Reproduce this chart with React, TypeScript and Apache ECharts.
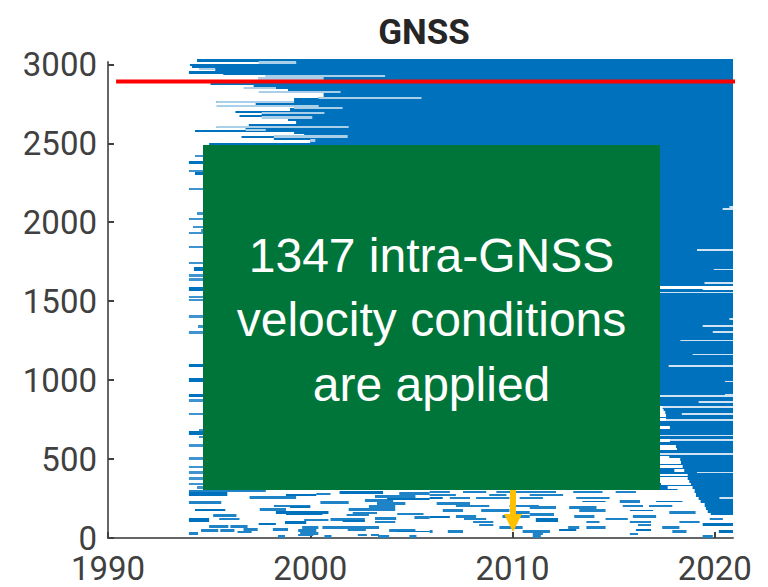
import React, { useEffect, useRef } from "react";
import * as echarts from "echarts";

const xTicks = [1990, 2000, 2010, 2020];
const yTicks = [0, 500, 1000, 1500, 2000, 2500, 3000];
const END = 2020.9;
const redLine = [[1990.4, 2892], [2021.05, 2892]];

// [low station, high station, first year]: solid rows that run on to the end of the record
const topBands = [
  [3018,3031,1994.4],[3001,3018,1999.3],[2989,3001,1994.05],[2980,2989,1994.15],[2968,2980,1994.7],
  [2959,2968,1995.3],[2942,2959,1994],[2934,2942,1995.7],[2917,2934,1997.8],[2904,2917,1997.45],
  [2870,2904,1995.07],[2858,2870,1997.2],[2845,2858,1998.3],[2824,2845,1998.9],[2794,2824,2000.66],
  [2786,2794,2000.4],[2765,2786,1999.2],[2756,2765,1995.36],[2744,2756,1997.3],[2733,2744,2000.4],
  [2722,2733,1999.2],[2703,2722,1999],[2693,2703,1996.3],[2680,2693,1997.6],[2668,2680,1996.5],
  [2655,2668,1998.7],[2643,2655,1998.9],[2620,2643,1999.3],[2605,2620,1996.96],[2598,2605,1995.36],
  [2586,2598,1996.8],[2572,2586,1994.3],[2558,2572,1999.2],[2545,2558,1999.7],[2534,2545,1996.6],
  [2522,2534,1998.2],[2500,2522,2000],[304,2500,1995],
  [283,304,2019],[262,283,2019.07],[241,262,2019.2],[220,241,2019.3],[199,220,2019.5],
  [178,199,2019.56],[157,178,2019.65],[144,157,2019.8],
];

// [station, first year, last year]: pale gaps across the top block
const paleRows = [
  [3012,1997.45,1999.3],[2970,1994.5,1995.3],[2925,1997.8,2003.7],[2911,1997.45,2000.66],
  [2851,1996.7,1998.3],[2824,1997.45,2001.5],[2788,2000.4,2005.5],[2761,1995.36,1999.2],
  [2735,1995.36,2000.4],[2724,1999.2,2001.6],[2691,1997.6,2000.7],[2663,1997.6,2000.1],
  [2602,1995.36,2001.9],[2583,1996.8,1997.8],[2543,1998.2,2001.85],[2519,2000,2000.25],
];

// [station, first year]: short rows left of the solid block
const leftRows = [
  [2421,1994.3],[2326,1994],[2212,1994],[2057,1994.4],[2021,1994],[1969,1994.2],[1948,1994.6],
  [1933,1994],[1842,1994],[1743,1994],[1662,1994],[1637,1994],[1527,1994],[1508,1994],[1403,1994],
  [1339,1994.45],[1303,1994],[872,1994],[784,1994],[680,1994.5],[640,1994.5],[585,1994],[505,1994],
  [450,1994],[414,1994],[378,1994],[342,1994],[321,1994.4],
];
const leftThick = [
  [2366,2390,1994],[2298,2320,1994.3],[1693,1717,1994.25],[1566,1590,1994],[1080,1104,1994],
  [991,1015,1994],[890,914,1994],[651,675,1994],
];

// [station, first year]: pale full gaps at the right of the block
const gapRows = [
  [2085,2020.39],[2096,2020.72],[1825,2019.12],[1701,2019.95],[1618,2019.49],
  [1555,2016.9],[1386,2020.72],[1340,2019.4],[1304,2019.9],[1251,2018.3],
  [1162,2018.9],[1090,2017.72],[991,2020.5],[907,2020.5],[900,2016.9],
  [864,2019.2],[829,2016.9],[784,2018.37],[748,2016.9],[622,2016.9],
  [533,2016.9],[415,2019.12],[252,2020.23],[649,2016.9],
];
// [station, first year, last year]: white rows of the wedge under the block
const wedgeRows = [
  [828,2016.9,2017.42],[811,2016.9,2017.47],[796,2016.9,2017.55],[701,2016.9,2017.78],
  [564,2016.9,2018.13],[511,2016.9,2017.75],[498,2016.9,2018.29],[479,2016.9,2018.33],
  [427,2018,2018.49],[399,2016.9,2018.66],[357,2016.9,2018.74],[342,2017.34,2018.82],
  [304,2018.16,2019],
];
const wedgeThick = [
  [1579,1595,2016.9,END],[1568,1584,2019.4,END],[767,783,2016.9,2017.59],[738,758,2016.9,2017.59],
  [607,627,2016.9,2017.78],[569,589,2016.9,2018.08],[442,462,2016.9,2018.41],[368,388,2016.9,2018.66],
  [311,331,2017.67,2018.9],
];

// [station, first year, last year]: scattered short rows at the bottom
const lowRows = [
  [298,1994,1997.8],[279,2000.3,2001],[283,2004.4,2005.9],[258,1997,1999.3],[262,2003.2,2005.2],
  [237,2002.7,2004.1],[226,1994,1995.6],[226,2000.5,2001.9],[218,2003.3,2004.7],[203,1998.2,2000],
  [199,2002.9,2004.2],[182,1997.5,1998.8],[182,2001.9,2004.2],[157,2002.1,2003.3],[146,2001.8,2002.9],
  [152,2004.3,2005.6],[144,1995.2,1996.35],[131,2005.15,2005.9],[119,1995.5,1996.5],[115,1999.7,2000.9],
  [117,2001,2002.7],[125,2003.2,2004.25],[100,2003.2,2004.2],[72,1995,1995.95],[72,1996.05,1996.9],
  [68,1999.6,2000.4],[68,2000.6,2003.4],[55,1998.15,1998.9],[55,1996.7,1997.4],[47,1994.6,1995.45],
  [47,1995.55,1996.25],[38,1996.4,1997.1],[47,1999.4,2000.3],[55,2001.85,2002.75],[47,2003.9,2005.2],
  [30,1994,1994.45],[30,1999.5,2000.4],[20,1999.4,2000.15],[20,2002.35,2002.8],[20,2003,2003.4],
  [8,1998.4,1998.75],[8,2000.7,2001.05],[8,2003.35,2003.9],[8,2004.9,2005.25],
  [290,2005.9,2006.9],[290,2007.55,2008.7],[290,2009.2,2012.15],[290,2013,2014.45],[290,2015.1,2016.1],
  [273,2005.9,2007.2],[273,2008.85,2009.7],[273,2010.85,2012.5],[252,2006.9,2007.9],[252,2008.2,2009.85],
  [252,2010.35,2011.5],[252,2013.15,2014.8],[231,2015.3,2016.3],[220,2006.25,2007.9],[203,2007.2,2008.85],
  [203,2009.85,2011.3],[203,2015.45,2016.45],[203,2016.75,2017.9],[193,2010.85,2012.15],[193,2012.8,2014.15],
  [174,2013.3,2014.6],[174,2006.55,2007.55],[174,2008.45,2009.85],[163,2010,2010.85],[163,2017.75,2019.05],
  [150,2010.85,2012.05],[135,2007.2,2008.2],[135,2009.5,2010.85],[135,2013.05,2014.05],[135,2015.95,2017.1],
  [119,2007.6,2008.7],[119,2014.6,2015.7],[119,2019.75,2020.4],[102,2013.65,2014.3],[102,2018.25,2019.25],
  [102,2015.8,2016.85],[102,2008.05,2009.05],[83,2008.35,2009.05],[83,2016.2,2016.85],[68,2013.65,2014.6],
  [68,2009.35,2010.5],[68,2012.75,2013.3],[68,2017.4,2018.25],[41,2006.8,2007.55],[41,2005.9,2006.05],
  [41,2010.5,2011.85],[41,2017.9,2018.6],[26,2011,2011.5],[26,2015.8,2016.2],[8,2011,2011.4],[8,2019.4,2019.9],
];
// [low station, high station, first year, last year]
const lowThick = [
  [266,292,1994,1995.9],[281,299,2001.45,2003.6],[267,279,1998.8,2000.3],[239,255,2003.8,2005.9],
  [187,203,1999,2000],[172,184,1994.3,1995.8],[154,168,1998.3,2000.9],[145,159,1998.8,2000.6],
  [102,128,1994,1995],[104,116,2001.6,2002.7],[90,106,1998.75,1999.8],[83,95,1997.45,1998.3],
  [35,47,2004.3,2005.9],[244,260,2005.9,2006.55],[225,237,2013.45,2014.6],[225,237,2017.1,2018.4],
  [168,180,2015.8,2016.95],[129,141,2005.9,2006.9],[99,125,2011.15,2012.25],[73,93,2019.4,END],
  [43,59,2016.1,2016.85],[43,59,2012.3,2013.15],[31,51,2020.2,END],
];

const THIN = 8;
const rowsFromCentres = (rows: number[][]) => rows.map(([v, a, b]) => [v - THIN, v + THIN, a, b]);

const renderBar = (_: any, api: any) => {
  const a = api.coord([api.value(2), api.value(1)]);
  const b = api.coord([api.value(3), api.value(0)]);
  const top = Math.round(a[1]);
  const bottom = Math.max(Math.round(b[1]), top + 1);
  return { type: "rect", shape: { x: a[0], y: top, width: b[0] - a[0], height: bottom - top }, style: { fill: api.visual("color") } };
};
const bars = (data: number[][], color: string, z: number) => ({
  type: "custom", renderItem: renderBar, data, itemStyle: { color }, z, silent: true, clip: false,
  dimensions: ["low", "high", "start", "end"], encode: { x: [2, 3], y: [0, 1] },
});

const axisText = { fontFamily: "Roboto", fontSize: 33, color: "#404040" };
const axisLine = { show: true, onZero: false, lineStyle: { color: "#666666", width: 2 } };
const tick = (customValues: number[]) => ({ show: true, inside: true, length: 6, customValues, lineStyle: { color: "#404040", width: 2 } });

export default function App() {
  const ref = useRef<HTMLDivElement>(null);
  useEffect(() => {
    const chart = echarts.init(ref.current!, undefined, { renderer: "svg" });
    chart.setOption({
      animation: false,
      title: { text: "GNSS", left: 419, top: 10, textAlign: "center", textStyle: { fontFamily: "Roboto", fontWeight: "bold", fontSize: 35, color: "#262626" } },
      grid: { left: 108, right: 35, top: 62, bottom: 49 },
      xAxis: { type: "value", min: 1990, max: END, splitLine: { show: false }, axisLine, axisTick: tick(xTicks),
        axisLabel: { ...axisText, margin: 14, customValues: xTicks, formatter: (v: number) => String(v) } },
      yAxis: { type: "value", min: 0, max: 3015, splitLine: { show: false }, axisLine, axisTick: tick(yTicks),
        axisLabel: { ...axisText, margin: 11, customValues: yTicks, formatter: (v: number) => String(v) } },
      series: [
        bars(topBands.map(([l, h, s]) => [l, h, s, END]), "#0072BD", 2),
        bars(leftRows.map(([v, s]) => [v - THIN, v + THIN, s, 1995]), "#3f94cf", 2),
        bars(leftThick.map(([l, h, s]) => [l, h, s, 1995]), "#0072BD", 2),
        bars(rowsFromCentres(paleRows), "#a9cfe9", 3),
        bars(gapRows.map(([v, s]) => [v - 6, v + 6, s, END]), "#cfe3f2", 3),
        bars(rowsFromCentres(wedgeRows), "#ffffff", 3),
        bars(wedgeThick, "#ffffff", 3),
        bars(rowsFromCentres(lowRows), "#1f84c7", 4),
        bars(lowThick, "#0072BD", 4),
        { type: "line", data: redLine, symbol: "none", clip: false, silent: true, z: 5, lineStyle: { color: "#FF0000", width: 4 } },
      ],
      graphic: [
        { type: "rect", z: 10, shape: { x: 203, y: 145, width: 457, height: 345 }, style: { fill: "#00753A" } },
        { type: "rect", z: 10, shape: { x: 510, y: 490, width: 6, height: 24 }, style: { fill: "#FFC000" } },
        { type: "polygon", z: 10, shape: { points: [[504, 514], [522, 514], [513, 532]] }, style: { fill: "#FFC000" } },
        ...["1347 intra-GNSS", "velocity conditions", "are applied"].map((text, i) => ({
          type: "text", z: 11, x: 431.5, y: 255 + i * 64.5,
          style: { text, fill: "#ffffff", font: '48px "Liberation Sans"', align: "center", verticalAlign: "middle" },
        })),
      ],
    });
    return () => chart.dispose();
  }, []);
  return <div ref={ref} style={{ position: "absolute", left: 0, top: 0, width: 768, height: 587 }} />;
}
